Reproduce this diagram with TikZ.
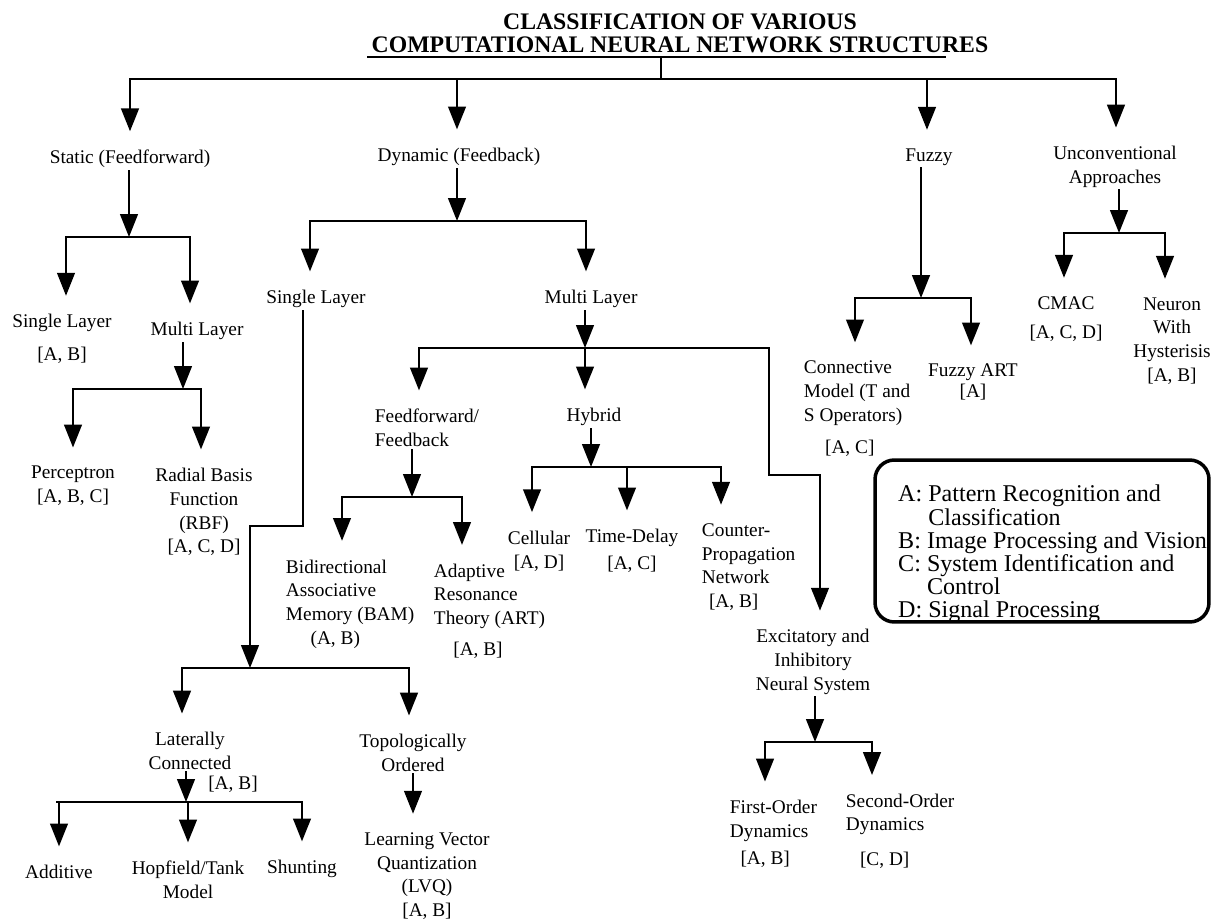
\documentclass[tikz,border=0pt]{standalone}
\usepackage{fontspec}
\setmainfont{Liberation Serif}
\usetikzlibrary{arrows.meta}
\begin{document}
\begin{tikzpicture}[x=0.02cm, y=-0.02cm, line width=1.4pt, line cap=rect,
    lbl/.style={inner sep=1pt, align=center, font=\fontsize{11}{13.5}\selectfont},
    lbll/.style={lbl, align=left, anchor=west},
    arr/.style={-{Triangle[length=13pt,width=10pt]}},
    tonode/.style={arr, shorten >=9pt}]
\useasboundingbox (0,0) rectangle (1227,922);

% title
\node[font=\fontsize{13.5}{13}\selectfont\bfseries, align=center, inner sep=0pt] (title) at (680,33) {CLASSIFICATION OF VARIOUS\\COMPUTATIONAL NEURAL NETWORK STRUCTURES};
\coordinate (ulL) at (368,57);
\coordinate (ulR) at (945,57);

% first level
\node[lbl] (stat) at (130,159) {Static (Feedforward)};
\node[lbl] (dyn) at (459,157) {Dynamic (Feedback)};
\node[lbl] (fuz) at (929,157) {Fuzzy};
\node[lbl] (unc) at (1115,167) {Unconventional\\Approaches};

\coordinate (t0) at (661,79);
\coordinate (t1) at (130,79);
\coordinate (t2) at (457,79);
\coordinate (t3) at (927,79);
\coordinate (t4) at (1116,79);
\draw (ulL) -- (ulR);
\draw (t0 |- ulL) -- (t0);
\draw (t1) -- (t4);
\draw[tonode] (t1) -- (t1 |- stat.north);
\draw[tonode] (t2) -- (t2 |- dyn.north);
\draw[tonode] (t3) -- (t3 |- fuz.north);
\draw[tonode] (t4) -- (t4 |- unc.north);

% static
\node[lbl] (ssl) at (62,339) {Single Layer\\[5pt][A, B]};
\node[lbl] (sml) at (197,331) {Multi Layer};
\node[lbl] (perc) at (73,486) {Perceptron\\{}[A, B, C]};
\node[lbl] (rbf) at (204,512) {Radial Basis\\Function\\(RBF)\\{}[A, C, D]};

\coordinate (s0) at (129,237);
\coordinate (s1) at (66,237);
\coordinate (s2) at (190,237);
\draw[arr] (s0 |- stat.south) -- (s0);
\draw (s1) -- (s2);
\draw[tonode] (s1) -- (s1 |- ssl.north);
\draw[tonode] (s2) -- (s2 |- sml.north);

\coordinate (p0) at (183,389);
\coordinate (p1) at (73,389);
\coordinate (p2) at (201,389);
\draw[arr] (p0 |- sml.south) -- (p0);
\draw (p1) -- (p2);
\draw[tonode] (p1) -- (p1 |- perc.north);
\draw[tonode] (p2) -- (p2 |- rbf.north);

% dynamic
\node[lbl] (dsl) at (316,299) {Single Layer};
\node[lbl] (dml) at (591,299) {Multi Layer};

\coordinate (d0) at (457,221);
\coordinate (d1) at (310,221);
\coordinate (d2) at (586,221);
\draw[arr] (d0 |- dyn.south) -- (d0);
\draw (d1) -- (d2);
\draw[tonode] (d1) -- (d1 |- dsl.north);
\draw[tonode] (d2) -- (d2 |- dml.north);

% dynamic, single layer
\node[lbl] (lat) at (190,751) {Laterally\\Connected};
\node[lbl] (lattag) at (233,784) {[A, B]};
\node[lbl] (topo) at (413,753) {Topologically\\Ordered};
\node[lbl] (add) at (59,872) {Additive};
\node[lbl] (hop) at (188,880) {Hopfield/Tank\\Model};
\node[lbl] (shu) at (302,869) {Shunting};
\node[lbl] (lvq) at (427,876) {Learning Vector\\Quantization\\(LVQ)\\{}[A, B]};

\coordinate (q1) at (303,526);
\coordinate (q2) at (250,526);
\coordinate (q3) at (250,668);
\coordinate (r1) at (182,668);
\coordinate (r2) at (409,668);
\draw[arr] (q1 |- dsl.south) -- (q1) -- (q2) -- (q3);
\draw (r1) -- (r2);
\draw[tonode] (r1) -- (r1 |- lat.north);
\draw[tonode] (r2) -- (r2 |- topo.north);

\coordinate (u0) at (186,802);
\coordinate (u1) at (57,802);
\coordinate (u2) at (302,802);
\draw[arr] (u0 |- lat.south) -- (u0);
\draw (u1) -- (u2);
\draw[tonode] (add |- u1) -- (add);
\draw[tonode] (hop |- u1) -- (hop);
\draw[tonode] (shu |- u1) -- (shu);
\draw[tonode] (topo.south) -- (topo.south |- lvq.north);

% dynamic, multi layer
\node[lbll] (ffb) at (372,428) {Feedforward/\\Feedback};
\node[lbl] (hyb) at (594,417) {Hybrid};
\node[lbl] (exc) at (813,662) {Excitatory and\\Inhibitory\\Neural System};

\coordinate (n0) at (585,348);
\coordinate (n1) at (419,348);
\coordinate (n2) at (769,348);
\coordinate (n3) at (769,475);
\coordinate (n4) at (820,475);
\draw[arr] (n0 |- dml.south) -- (n0);
\draw (n1) -- (n2);
\draw[tonode] (n1) -- (n1 |- ffb.north);
\draw[tonode] (n0) -- (n0 |- hyb.north);
\draw[tonode] (n2) -- (n3) -- (n4) -- (n4 |- exc.north);

\node[lbll] (bam) at (283,604) {Bidirectional\\Associative\\Memory (BAM)\\\hspace*{14pt}(A, B)};
\node[lbll] (art) at (431,611) {Adaptive\\Resonance\\Theory (ART)\\[4pt]\hspace*{11pt}[A, B]};

\coordinate (f0) at (412,497);
\coordinate (f1) at (342,497);
\coordinate (f2) at (462,497);
\draw[arr] (f0 |- ffb.south) -- (f0);
\draw (f1) -- (f2);
\draw[tonode] (f1) -- (f1 |- bam.north);
\draw[tonode] (f2) -- (f2 |- art.north);

\node[lbl] (cel) at (539,551) {Cellular\\{}[A, D]};
\node[lbl] (tdl) at (632,551) {Time-Delay\\[2pt][A, C]};
\node[lbll] (cpn) at (699,567) {Counter-\\Propagation\\Network\\\hspace*{4pt}[A, B]};

\coordinate (h0) at (591,467);
\coordinate (h1) at (532,467);
\coordinate (h2) at (627,467);
\coordinate (h3) at (721,467);
\draw[arr] (h0 |- hyb.south) -- (h0);
\draw (h1) -- (h3);
\draw[tonode] (h1) -- (h1 |- cel.north);
\draw[tonode] (h2) -- (h2 |- tdl.north);
\draw[tonode] (h3) -- (h3 |- cpn.north);

\node[lbll] (fod) at (727,834) {First-Order\\Dynamics\\[2pt]\hspace*{6pt}[A, B]};
\node[lbll] (sod) at (843,831) {Second-Order\\Dynamics\\[6pt]\hspace*{8pt}[C, D]};

\coordinate (e0) at (815,742);
\coordinate (e1) at (765,742);
\coordinate (e2) at (872,742);
\draw[arr] (e0 |- exc.south) -- (e0);
\draw (e1) -- (e2);
\draw[tonode] (e1) -- (e1 |- fod.north);
\draw[tonode] (e2) -- (e2 |- sod.north);

% fuzzy
\node[lbll] (con) at (801,409) {Connective\\Model (T and\\S Operators)\\[5pt]\hspace*{12pt}[A, C]};
\node[lbl] (fart) at (973,382) {Fuzzy ART\\[-2pt][A]};

\coordinate (z0) at (921,298);
\coordinate (z1) at (855,298);
\coordinate (z2) at (971,298);
\draw[arr] (z0 |- fuz.south) -- (z0);
\draw (z1) -- (z2);
\draw[tonode] (z1) -- (z1 |- con.north);
\draw[tonode] (z2) -- (z2 |- fart.north);

% unconventional
\node[lbl] (cmac) at (1066,319) {CMAC\\[3pt][A, C, D]};
\node[lbl] (nwh) at (1172,341) {Neuron\\With\\Hysterisis\\{}[A, B]};

\coordinate (c0) at (1119,233);
\coordinate (c1) at (1064,233);
\coordinate (c2) at (1165,233);
\draw[arr] (c0 |- unc.south) -- (c0);
\draw (c1) -- (c2);
\draw[tonode] (c1) -- (c1 |- cmac.north);
\draw[tonode] (c2) -- (c2 |- nwh.north);

% legend
\node[draw, line width=2pt, rounded corners=11pt, minimum width=6.68cm, minimum height=3.24cm] (legbox) at (1042,541) {};
\node[anchor=north west, inner sep=0pt, align=left, font=\fontsize{13.7}{13.2}\selectfont] (legtxt) at (897,484) {A: Pattern Recognition and\\\hphantom{A: }Classification\\B: Image Processing and Vision\\C: System Identification and\\\hphantom{C: }Control\\D: Signal Processing};
\end{tikzpicture}
\end{document}
